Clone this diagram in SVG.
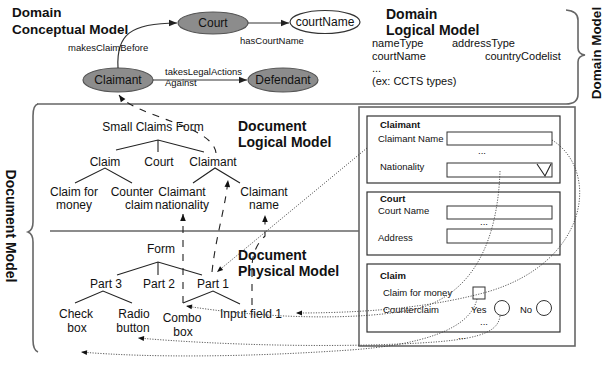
<svg xmlns="http://www.w3.org/2000/svg" width="610" height="366" viewBox="0 0 610 366">
<style>
text{font-family:"Liberation Sans",Arial,sans-serif;fill:#111}
.t{font-size:12px;text-anchor:middle}
.m{text-anchor:middle}
.h{font-size:14px;font-weight:bold}
.hd{font-size:13.5px;font-weight:bold}
.lb{font-size:9.5px}
.dl{font-size:11px}
.f{font-size:9.5px}
.fb{font-size:9.5px;font-weight:bold}
.el{fill:#8c8c8c;stroke:#555;stroke-width:1.2}
.tr{stroke:#222;stroke-width:1.1;fill:none}
.sol{stroke:#333;stroke-width:1.2;fill:none}
.dash{stroke:#222;stroke-width:1.1;fill:none;stroke-dasharray:7 7}
.dot{stroke:#333;stroke-width:0.8;fill:none;stroke-dasharray:1.2 1.4}
.frame{stroke:#666;stroke-width:1.6;fill:none}
.panel{stroke:#333;stroke-width:1.2;fill:#fff}
.inp{stroke:#333;stroke-width:1;fill:#fff}
</style>
<defs>
<marker id="a" viewBox="0 0 10 10" refX="10" refY="5" markerWidth="10" markerHeight="8" markerUnits="userSpaceOnUse" orient="auto"><path d="M0,1 L10,5 L0,9 z" fill="#222"/></marker>
<marker id="ad" viewBox="0 0 10 10" refX="10" refY="5" markerWidth="8" markerHeight="7" markerUnits="userSpaceOnUse" orient="auto"><path d="M0,1 L10,5 L0,9 z" fill="#111"/></marker>
<marker id="ao" viewBox="0 0 10 10" refX="10" refY="5" markerWidth="8" markerHeight="6" markerUnits="userSpaceOnUse" orient="auto"><path d="M0,1 L10,5 L0,9 z" fill="#111"/></marker>
</defs>

<!-- frames / braces -->
<g id="frames">
<path class="frame" d="M37,104 L566,104 Q578,104 578,94 L578,62 Q578,56 585,55 Q578,54 578,48 L578,20 Q578,11 566,10"/>
<path class="frame" d="M38,104 Q33,105 33,116 L33,222 Q33,230 28,232 Q33,234 33,242 L33,340 Q33,350 38,352"/>
<line class="frame" x1="50" y1="231" x2="359" y2="231"/>
<rect class="frame" x="359" y="107" width="216" height="239"/>
</g>

<g id="titles">
<text class="hd" x="12" y="17">Domain</text>
<text class="hd" x="12" y="34">Conceptual Model</text>
<text class="h" x="386" y="19">Domain</text>
<text class="h" x="386" y="35">Logical Model</text>
<text class="h" x="238" y="131">Document</text>
<text class="h" x="238" y="147">Logical Model</text>
<text class="h" x="238" y="260">Document</text>
<text class="h" x="238" y="276">Physical Model</text>
<text class="hd" transform="translate(601,53) rotate(-90)" text-anchor="middle">Domain Model</text>
<text class="h" transform="translate(6,226) rotate(90)" text-anchor="middle">Document Model</text>
</g>

<g id="domain-logical">
<text class="dl" x="372" y="47">nameType</text>
<text class="dl" x="452" y="47">addressType</text>
<text class="dl" x="372" y="60">courtName</text>
<text class="dl" x="485" y="60">countryCodelist</text>
<text class="dl" x="372" y="72">...</text>
<text class="dl" x="372" y="85">(ex: CCTS types)</text>
</g>

<!-- conceptual nodes -->
<g id="court"><ellipse class="el" cx="213" cy="23" rx="35" ry="11"/><text class="t" x="213" y="27">Court</text></g>
<g id="courtName"><ellipse cx="325" cy="22" rx="35" ry="11.5" fill="#fff" stroke="#333" stroke-width="1.2"/><text class="t" x="325" y="26">courtName</text></g>
<g id="claimant"><ellipse class="el" cx="118" cy="80" rx="35" ry="12"/><text class="t" x="118" y="84">Claimant</text></g>
<g id="defendant"><ellipse class="el" cx="283" cy="80" rx="35" ry="12"/><text class="t" x="283" y="84">Defendant</text></g>

<!-- document logical tree nodes -->
<g id="dl-form"><text class="t" x="153" y="131">Small Claims Form</text></g>
<g id="dl-claim"><text class="t" x="105" y="166">Claim</text></g>
<g id="dl-court"><text class="t" x="159" y="166">Court</text></g>
<g id="dl-claimant"><text class="t" x="213" y="166">Claimant</text></g>
<g id="dl-claimformoney"><text class="t" x="74" y="196">Claim for</text><text class="t" x="74" y="209">money</text></g>
<g id="dl-counterclaim"><text class="t" x="132" y="196">Counter</text><text class="t" x="139" y="209">claim</text></g>
<g id="dl-nationality"><text class="t" x="182" y="196">Claimant</text><text class="t" x="182" y="209">nationality</text></g>
<g id="dl-name"><text class="t" x="264" y="196">Claimant</text><text class="t" x="264" y="209">name</text></g>

<!-- document physical tree nodes -->
<g id="dp-form"><text class="t" x="161" y="253">Form</text></g>
<g id="dp-part3"><text class="t" x="106" y="288">Part 3</text></g>
<g id="dp-part2"><text class="t" x="159" y="288">Part 2</text></g>
<g id="dp-part1"><text class="t" x="213" y="288">Part 1</text></g>
<g id="dp-check"><text class="t" x="76" y="318">Check</text><text class="t" x="77" y="332">box</text></g>
<g id="dp-radio"><text class="t" x="134" y="318">Radio</text><text class="t" x="133" y="332">button</text></g>
<g id="dp-combo"><text class="t" x="182" y="322">Combo</text><text class="t" x="183" y="336">box</text></g>
<g id="dp-input"><text class="t" x="251" y="318">Input field 1</text></g>

<!-- form panels -->
<g id="panel-claimant">
<rect class="panel" x="367" y="116" width="193" height="67"/>
<text class="fb" x="380" y="128">Claimant</text>
<text class="f" x="378" y="142">Claimant Name</text>
<rect class="inp" x="447" y="132" width="105" height="13"/>
<text class="f" x="478" y="154">...</text>
<text class="f" x="380" y="170">Nationality</text>
<rect class="inp" x="447" y="163" width="105" height="14"/>
<polyline class="tr" points="537,164 545,176 551,164"/>
</g>
<g id="panel-court">
<rect class="panel" x="367" y="192" width="193" height="63"/>
<text class="fb" x="380" y="202">Court</text>
<text class="f" x="378" y="214">Court Name</text>
<rect class="inp" x="447" y="206" width="105" height="13"/>
<text class="f" x="480" y="225">...</text>
<text class="f" x="378" y="241">Address</text>
<rect class="inp" x="447" y="229" width="105" height="14"/>
</g>
<g id="panel-claim">
<rect class="panel" x="367" y="264" width="193" height="68"/>
<text class="fb" x="380" y="279">Claim</text>
<text class="f" x="383" y="296">Claim for money</text>
<rect class="inp" x="473" y="287" width="12" height="12"/>
<text class="f" x="383" y="313">Counterclaim</text>
<text class="f" x="471" y="313">Yes</text>
<circle class="inp" cx="502" cy="308" r="7.5"/>
<text class="f" x="520" y="313">No</text>
<circle class="inp" cx="544" cy="308" r="7.5"/>
<text class="f" x="480" y="325">...</text>
<text class="f" x="458" y="339">...</text>
</g>

<!-- connectors -->
<g id="connectors">
<path class="sol" d="M118,68 C116,35 130,23 177,23" marker-end="url(#a)"/>
<line class="sol" x1="248" y1="23" x2="289" y2="23" marker-end="url(#a)"/>
<line class="sol" x1="153" y1="80" x2="247" y2="80" marker-end="url(#a)"/>
<text class="lb" x="68" y="51">makesClaimBefore</text>
<text class="lb" x="240" y="44">hasCourtName</text>
<text class="lb" x="165" y="75">takesLegalActions</text>
<text class="lb" x="165" y="86">Against</text>

<path class="tr" d="M116,150 L158,140 L204,152 M158,140 L158,152"/>
<path class="tr" d="M75,183 L105,168 L132,183"/>
<path class="tr" d="M193,183 L215,168 L240,183"/>
<path class="tr" d="M117,275 L158,262 L202,275 M158,262 L158,275"/>
<path class="tr" d="M75,303 L103,291 L132,303"/>
<path class="tr" d="M183,303 L213,291 L240,304"/>

<path class="dash" d="M216,153 C213,125 135,117 119,95" marker-end="url(#ad)"/>
<path class="dash" d="M212,272 C216,235 225,210 228,180" marker-end="url(#ad)"/>
<line class="dash" x1="183" y1="303" x2="183" y2="214" marker-end="url(#ad)"/>
<path class="dash" d="M252,305 L252,268 Q252,248 265,236 L265,215" marker-end="url(#ad)"/>

<line class="dot" x1="367" y1="148" x2="217" y2="272" marker-end="url(#ao)"/>
<path class="dot" d="M552,140 C600,170 590,262 487,292 C440,305 380,313 296,313" marker-end="url(#ao)"/>
<path class="dot" d="M500,171 C498,230 480,290 420,308 C360,322 260,318 186,306" marker-end="url(#ao)"/>
<path class="dot" d="M477,299 C470,330 420,345 350,350 C250,357 150,358 81,352" marker-end="url(#ao)"/>
<path class="dot" d="M500,316 C498,335 470,340 420,343 C330,348 220,345 138,338" marker-end="url(#ao)"/>
</g>
</svg>
